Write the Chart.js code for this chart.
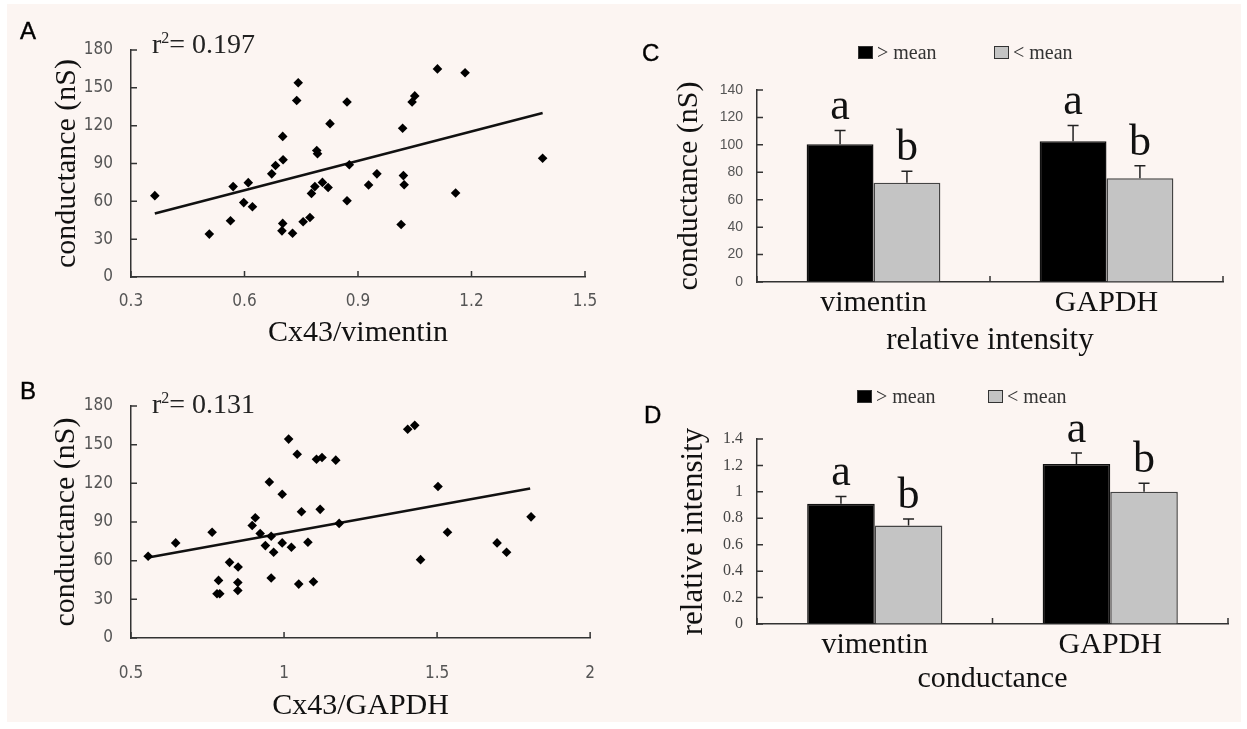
<!DOCTYPE html>
<html>
<head>
<meta charset="utf-8">
<script src="https://cdn.jsdelivr.net/npm/chart.js@4.4.1/dist/chart.umd.min.js"></script>
<style>
  html, body { margin: 0; padding: 0; background: #fff; }
  #fig { position: relative; width: 1247px; height: 729px; overflow: hidden; background: #fff; }
  #paper { position: absolute; left: 7px; top: 4px; width: 1234px; height: 718px; background: #fcf5f2; }
  canvas { position: absolute; }
  .tag { position: absolute; font: 24px "Liberation Sans", Arial, sans-serif; line-height: 20px; color: #000; -webkit-text-stroke: 0.4px #000; }
  .r2 { position: absolute; font: 28px "Liberation Serif", serif; line-height: 28px; color: #222; white-space: nowrap; }
  .r2 sup { font-size: 16px; line-height: 0; vertical-align: 10px; }
  .key { position: absolute; height: 24px; display: flex; align-items: center; font: 20px "Liberation Serif", serif; color: #333; white-space: nowrap; }
  .sw { display: inline-block; width: 13px; height: 11px; border: 1px solid #333; margin-right: 4px; }
</style>
</head>
<body>
<div id="fig">
  <div id="paper"></div>
  <canvas id="chartA" width="620" height="355" style="left:0;top:0"></canvas>
  <canvas id="chartB" width="620" height="369" style="left:0;top:360px"></canvas>
  <canvas id="chartC" width="607" height="300" style="left:640px;top:60px"></canvas>
  <canvas id="chartD" width="607" height="329" style="left:640px;top:400px"></canvas>

  <div class="tag" style="left:20px;top:21px">A</div>
  <div class="tag" style="left:20px;top:381px">B</div>
  <div class="tag" style="left:642px;top:43px">C</div>
  <div class="tag" style="left:644px;top:405px">D</div>

  <div class="r2" style="left:152px;top:30px">r<sup>2</sup>= 0.197</div>
  <div class="r2" style="left:152px;top:390px">r<sup>2</sup>= 0.131</div>

  <div class="key" style="left:858px;top:40px"><span class="sw" style="background:#000"></span>&gt; mean</div>
  <div class="key" style="left:994px;top:40px"><span class="sw" style="background:#c4c4c4"></span>&lt; mean</div>
  <div class="key" style="left:857px;top:384px"><span class="sw" style="background:#000"></span>&gt; mean</div>
  <div class="key" style="left:988px;top:384px"><span class="sw" style="background:#c4c4c4"></span>&lt; mean</div>
</div>
<script>
// panel A: Cx43/vimentin vs conductance
const vimX = [0.363, 0.507, 0.563, 0.570, 0.610, 0.598, 0.621, 0.672, 0.682, 0.702,
  0.701, 0.742, 0.738, 0.701, 0.699, 0.727, 0.755, 0.773, 0.777, 0.786,
  0.806, 0.821, 0.791, 0.793, 0.826, 0.871, 0.871, 0.877, 0.928, 0.950,
  1.110, 1.183, 1.050, 1.043, 1.018, 1.020, 1.022, 1.158, 1.014, 1.388]
const vimY = [64.5, 34, 44.6, 71.7, 74.8, 59, 55.7, 81.8, 88.4, 93,
  111.5, 154, 140, 42.5, 36.6, 34.7, 43.8, 47.2, 66.3, 71.7,
  75, 71, 100.3, 97.7, 121.6, 138.8, 60.5, 89, 73, 81.8,
  165, 162, 143.6, 138.8, 118, 80.4, 73.2, 66.6, 41.6, 94.2]
const vimTrendX = [0.363, 1.388]
const vimTrendY = [50.4, 130]

// panel B: Cx43/GAPDH vs conductance
const gapX = [0.556, 0.646, 0.765, 0.786, 0.790, 0.781, 0.822, 0.850, 0.849, 0.849,
  0.896, 0.906, 0.922, 0.939, 0.952, 0.958, 0.966, 0.958, 0.994, 0.994,
  1.015, 1.024, 1.043, 1.048, 1.057, 1.078, 1.096, 1.106, 1.124, 1.118,
  1.169, 1.180, 1.404, 1.427, 1.503, 1.534, 1.446, 1.696, 1.727, 1.807]
const gapY = [63.4, 73.8, 82.1, 44.7, 34.3, 34.3, 58.7, 55.1, 43.1, 36.9,
  87.3, 93.3, 81.1, 71.7, 121, 46.5, 66.5, 79, 111.5, 73.8,
  154.3, 70.4, 142.6, 41.8, 98, 74.3, 43.6, 138.7, 140, 99.8,
  138, 88.9, 162, 165, 117.5, 82.1, 60.8, 73.8, 66.5, 94]
const gapTrendX = [0.556, 1.804]
const gapTrendY = [62.5, 116]

// panels C and D: grouped by relative intensity / conductance
const groups = ["vimentin", "GAPDH"]
const condHigh = [100.5, 102.7]
const condHighErr = [10, 11.5]
const condLow = [72.3, 75.7]
const condLowErr = [8.5, 9]
const intHigh = [0.91, 1.21]
const intHighErr = [0.055, 0.085]
const intLow = [0.745, 1.0]
const intLowErr = [0.05, 0.065]
const sigHigh = ["a", "a"]
const sigLow = ["b", "b"]

const serif = '"Liberation Serif", "Times New Roman", serif'
const narrow = '"Liberation Sans Narrow", "Arial Narrow", "DejaVu Sans Condensed", sans-serif'
const sans = '"Liberation Sans", Arial, sans-serif'
const axisColor = "#333"

// small tick marks pointing into the plot, like the original figure
const inwardTicks = {
  id: "inwardTicks",
  afterDraw(chart) {
    const { ctx, chartArea, scales } = chart
    const { x, y } = scales
    ctx.save()
    ctx.strokeStyle = axisColor
    ctx.lineWidth = 1.5
    ctx.beginPath()
    y.ticks.forEach(t => {
      const p = y.getPixelForValue(t.value)
      ctx.moveTo(chartArea.left, p)
      ctx.lineTo(chartArea.left + 6, p)
    })
    if (x.type === "category") {
      for (let i = 0; i <= x.ticks.length; i++) {
        const p = x.getPixelForValue(i - 0.5)
        ctx.moveTo(p, chartArea.bottom)
        ctx.lineTo(p, chartArea.bottom - 6)
      }
    } else {
      x.ticks.forEach(t => {
        const p = x.getPixelForValue(t.value)
        ctx.moveTo(p, chartArea.bottom)
        ctx.lineTo(p, chartArea.bottom - 6)
      })
    }
    ctx.stroke()
    ctx.restore()
  }
}

// upper error whiskers plus the significance letter above them
const errorBars = {
  id: "errorBars",
  afterDatasetsDraw(chart) {
    const { ctx } = chart
    const y = chart.scales.y
    chart.data.datasets.forEach((ds, i) => {
      if (!ds.errors) return
      chart.getDatasetMeta(i).data.forEach((bar, j) => {
        const top = y.getPixelForValue(ds.data[j] + ds.errors[j])
        ctx.save()
        ctx.strokeStyle = "#222"
        ctx.lineWidth = 1.5
        ctx.beginPath()
        ctx.moveTo(bar.x, bar.y)
        ctx.lineTo(bar.x, top)
        ctx.moveTo(bar.x - 5.5, top)
        ctx.lineTo(bar.x + 5.5, top)
        ctx.stroke()
        if (ds.letters) {
          ctx.fillStyle = "#111"
          ctx.font = "44px " + serif
          ctx.textAlign = "center"
          ctx.textBaseline = "alphabetic"
          ctx.fillText(ds.letters[j], bar.x, top - 11)
        }
        ctx.restore()
      })
    })
  }
}

const fmt1 = v => String(+v.toFixed(1))

function sizedAxis(width, height) {
  return s => {
    if (width != null) s.width = width
    if (height != null) s.height = height
  }
}

function scatterPanel(id, xs, ys, tx, ty, xOpts, pad) {
  return new Chart(document.getElementById(id), {
    type: "scatter",
    data: {
      datasets: [
        {
          data: xs.map((v, i) => ({ x: v, y: ys[i] })),
          pointStyle: "rectRot",
          pointRadius: 4.8,
          backgroundColor: "#000",
          borderWidth: 0
        },
        {
          data: tx.map((v, i) => ({ x: v, y: ty[i] })),
          showLine: true,
          pointRadius: 0,
          borderColor: "#111",
          borderWidth: 2.5
        }
      ]
    },
    options: {
      responsive: false,
      animation: false,
      layout: { padding: { left: 0, top: pad.top, right: pad.right, bottom: 0 } },
      plugins: { legend: { display: false }, tooltip: { enabled: false } },
      scales: {
        x: {
          type: "linear",
          min: xOpts.min,
          max: xOpts.max,
          afterFit: sizedAxis(null, pad.xh),
          border: { color: axisColor, width: 1.5 },
          grid: { drawOnChartArea: false, drawTicks: false },
          ticks: { stepSize: xOpts.step, padding: pad.xtp, color: "#555", font: { family: narrow, size: 17 }, callback: fmt1 },
          title: { display: true, text: xOpts.title, color: "#111", font: { family: serif, size: 30 }, padding: { top: 0, bottom: pad.xtb } }
        },
        y: {
          min: 0,
          max: 180,
          afterFit: sizedAxis(pad.yw, null),
          border: { color: axisColor, width: 1.5 },
          grid: { drawOnChartArea: false, drawTicks: false },
          ticks: { stepSize: 30, padding: 18, color: "#555", font: { family: narrow, size: 17 } },
          title: { display: true, text: "conductance (nS)", color: "#111", font: { family: serif, size: 30 }, padding: { top: pad.ytp, bottom: 0 } }
        }
      }
    },
    plugins: [inwardTicks]
  })
}

function barPanel(id, hi, hiErr, lo, loErr, yOpts, pad) {
  return new Chart(document.getElementById(id), {
    type: "bar",
    data: {
      labels: groups,
      datasets: [
        { label: "> mean", data: hi, errors: hiErr, letters: sigHigh, backgroundColor: "#000", borderColor: "#111", borderWidth: 1.5 },
        { label: "< mean", data: lo, errors: loErr, letters: sigLow, backgroundColor: "#c4c4c4", borderColor: "#444", borderWidth: 1.5 }
      ]
    },
    options: {
      responsive: false,
      animation: false,
      layout: { padding: { left: 0, top: pad.top, right: pad.right, bottom: 0 } },
      datasets: { bar: { categoryPercentage: 0.574, barPercentage: 1 } },
      plugins: { legend: { display: false }, tooltip: { enabled: false } },
      scales: {
        x: {
          afterFit: sizedAxis(null, pad.xh),
          border: { color: axisColor, width: 1.5 },
          grid: { drawOnChartArea: false, drawTicks: false },
          ticks: { padding: pad.xtp, color: "#111", font: { family: serif, size: 30 } },
          title: { display: true, text: yOpts.xTitle, color: "#111", font: { family: serif, size: yOpts.xTitleSize }, padding: { top: 0, bottom: pad.xtb } }
        },
        y: {
          min: 0,
          max: yOpts.max,
          afterFit: sizedAxis(pad.yw, null),
          border: { color: axisColor, width: 1.5 },
          grid: { drawOnChartArea: false, drawTicks: false },
          ticks: { stepSize: yOpts.step, padding: 14, color: yOpts.tickColor, font: yOpts.tickFont, callback: fmt1 },
          title: { display: true, text: yOpts.yTitle, color: "#111", font: { family: serif, size: yOpts.yTitleSize }, padding: { top: pad.ytp, bottom: 0 } }
        }
      }
    },
    plugins: [inwardTicks, errorBars]
  })
}

scatterPanel("chartA", vimX, vimY, vimTrendX, vimTrendY,
  { min: 0.3, max: 1.5, step: 0.3, title: "Cx43/vimentin" },
  { top: 50, right: 35, xh: 78, yw: 131, xtp: 14, xtb: 4, ytp: 49 })

scatterPanel("chartB", gapX, gapY, gapTrendX, gapTrendY,
  { min: 0.5, max: 2, step: 0.5, title: "Cx43/GAPDH" },
  { top: 46, right: 28, xh: 91, yw: 131, xtp: 25, xtb: 5, ytp: 48 })

barPanel("chartC", condHigh, condHighErr, condLow, condLowErr,
  { max: 140, step: 20, xTitle: "relative intensity", xTitleSize: 31, yTitle: "conductance (nS)", yTitleSize: 30,
    tickColor: "#555", tickFont: { family: sans, size: 14 } },
  { top: 30, right: 24, xh: 78, yw: 117, xtp: 3, xtb: 1, ytp: 31 })

barPanel("chartD", intHigh, intHighErr, intLow, intLowErr,
  { max: 1.4, step: 0.2, xTitle: "conductance", xTitleSize: 30, yTitle: "relative intensity", yTitleSize: 31,
    tickColor: "#444", tickFont: { family: serif, size: 16 } },
  { top: 39, right: 19, xh: 105, yw: 117, xtp: 3, xtb: 32, ytp: 35 })
</script>
</body>
</html>
